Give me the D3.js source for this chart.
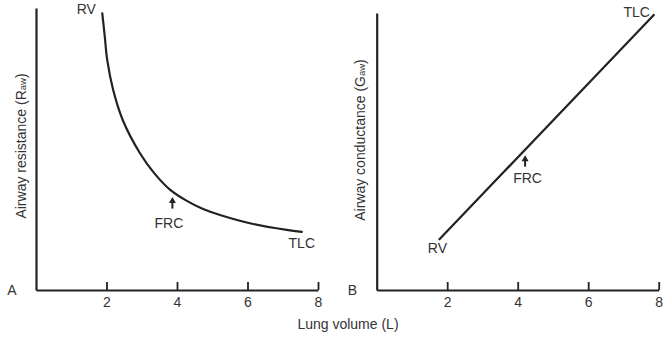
<!DOCTYPE html>
<html>
<head>
<meta charset="utf-8">
<script src="https://cdn.jsdelivr.net/npm/d3@7"></script>
<style>
  html, body { margin: 0; padding: 0; background: #fff; }
  svg { display: block; }
  text { font-family: "Liberation Sans", Arial, Helvetica, sans-serif; fill: #333; }
</style>
</head>
<body>
<svg id="chart" width="669" height="339"></svg>
<script>
// ---- data ----
const xTicks = [2, 4, 6, 8];
const xTitle = "Lung volume (L)";

// Panel A: airway resistance vs lung volume (arbitrary units 0-100)
const resistanceVolume = [1.88, 1.95, 2.02, 2.19, 2.46, 2.95, 3.33, 3.80, 4.28, 4.74, 5.22, 6.16, 7.11, 7.54];
const resistanceValue  = [98.1, 90.0, 81.6, 70.9, 60.3, 48.5, 41.8, 35.6, 31.6, 28.7, 26.6, 23.4, 21.3, 20.6];

// Panel B: airway conductance vs lung volume (arbitrary units 0-100)
const conductanceVolume = [1.78, 7.86];
const conductanceValue  = [18.3, 99.3];

// FRC markers (lung volume)
const frcVolumeA = 3.87;
const frcVolumeB = 4.21;

const svg = d3.select("#chart");

function panel(opts) {
  const x = d3.scaleLinear().domain([0, 8]).range([opts.left, opts.left + 282]);
  const y = d3.scaleLinear().domain([0, 100]).range([290, opts.top]);

  const g = svg.append("g");

  // x axis
  const xa = g.append("g")
    .attr("transform", "translate(0,290)")
    .call(d3.axisBottom(x).tickValues(xTicks).tickSizeInner(-8).tickSizeOuter(0).tickPadding(7).tickFormat(d3.format("d")));
  xa.select(".domain").attr("stroke", "#222").attr("stroke-width", 2.2);
  xa.selectAll(".tick line").attr("stroke", "#222").attr("stroke-width", 1.8);
  xa.selectAll(".tick text").attr("font-size", 14).attr("fill", "#333")
    .style("font-family", "'Liberation Sans', Arial, sans-serif");

  // y axis (line only)
  const ya = g.append("g")
    .attr("transform", `translate(${opts.left},0)`)
    .call(d3.axisLeft(y).tickValues([]).tickSizeOuter(0));
  ya.select(".domain").attr("stroke", "#222").attr("stroke-width", 2.2);

  // curve
  const pts = opts.xs.map((v, i) => [v, opts.ys[i]]);
  const line = d3.line().x(d => x(d[0])).y(d => y(d[1])).curve(d3.curveCatmullRom.alpha(0.5));
  const curve = g.append("path").datum(pts)
    .attr("d", line)
    .attr("fill", "none")
    .attr("stroke", "#222")
    .attr("stroke-width", 2.2)
    .attr("stroke-linecap", "round");

  // y label
  const yl = g.append("text")
    .attr("transform", `translate(${opts.ylabX},${opts.ylabY}) rotate(-90)`)
    .attr("text-anchor", "middle")
    .attr("dy", "0.35em")
    .attr("font-size", 14);
  yl.append("tspan").text(opts.ylab[0]);
  yl.append("tspan").attr("font-size", 9.5).text(opts.ylab[1]);
  yl.append("tspan").text(opts.ylab[2]);

  // panel letter
  g.append("text").attr("x", opts.letterX).attr("y", 295).attr("text-anchor", "middle")
    .attr("font-size", 14).text(opts.letter);

  // FRC arrow: locate the curve height at the FRC volume
  const fx = x(opts.frc);
  const node = curve.node();
  let lo = 0, hi = node.getTotalLength(), pt = node.getPointAtLength(0);
  for (let i = 0; i < 40; i++) {
    const mid = (lo + hi) / 2; pt = node.getPointAtLength(mid);
    if (pt.x < fx) lo = mid; else hi = mid;
  }
  const cy = pt.y;
  const tipY = cy + 5.5, baseY = cy + 17;
  g.append("line").attr("x1", fx).attr("x2", fx).attr("y1", tipY + 3).attr("y2", baseY)
    .attr("stroke", "#222").attr("stroke-width", 2);
  g.append("path")
    .attr("d", `M${fx},${tipY} L${fx - 3.5},${tipY + 6} L${fx + 3.5},${tipY + 6} Z`)
    .attr("fill", "#222");
  g.append("text").attr("x", fx + opts.frcDx).attr("y", cy + opts.frcDy).attr("text-anchor", "middle")
    .attr("font-size", 14).text("FRC");

  return { x, y, g };
}

const A = panel({
  left: 36, top: 8, xs: resistanceVolume, ys: resistanceValue,
  ylab: ["Airway resistance (R", "aw", ")"], ylabX: 21, ylabY: 146,
  letter: "A", letterX: 12, frc: frcVolumeA, frcDx: -3.5, frcDy: 36
});
A.g.append("text").attr("x", A.x(resistanceVolume[0]) - 16).attr("y", 14)
  .attr("text-anchor", "middle").attr("font-size", 14).text("RV");
A.g.append("text").attr("x", A.x(resistanceVolume[resistanceVolume.length - 1])).attr("y", 248)
  .attr("text-anchor", "middle").attr("font-size", 14).text("TLC");

const B = panel({
  left: 376.7, top: 13, xs: conductanceVolume, ys: conductanceValue,
  ylab: ["Airway conductance (G", "aw", ")"], ylabX: 360, ylabY: 140,
  letter: "B", letterX: 352.5, frc: frcVolumeB, frcDx: 2.5, frcDy: 33.5
});
B.g.append("text").attr("x", B.x(conductanceVolume[0]) - 2).attr("y", 253)
  .attr("text-anchor", "middle").attr("font-size", 14).text("RV");
B.g.append("text").attr("x", B.x(conductanceVolume[1]) - 17).attr("y", 17)
  .attr("text-anchor", "middle").attr("font-size", 14).text("TLC");

// shared x title
svg.append("text").attr("x", 348).attr("y", 329).attr("text-anchor", "middle")
  .attr("font-size", 14).text(xTitle);
</script>
</body>
</html>
